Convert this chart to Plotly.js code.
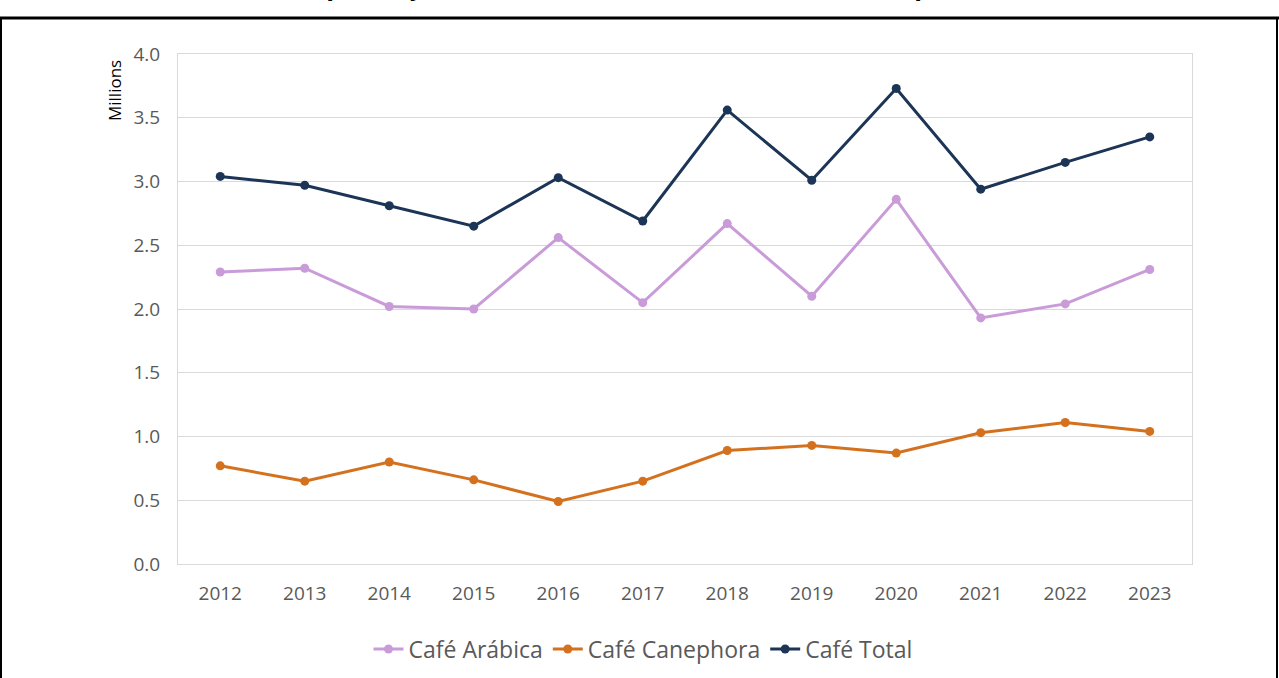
<!DOCTYPE html>
<html>
<head>
<meta charset="utf-8">
<script src="https://cdn.plot.ly/plotly-3.0.1.min.js"></script>
<style>
  html, body { margin: 0; padding: 0; background: #ffffff; }
  #chart { width: 1279px; height: 678px; }
</style>
</head>
<body>
<div id="chart"></div>
<script>
const years = ['2012','2013','2014','2015','2016','2017','2018','2019','2020','2021','2022','2023'];
const arabica   = [2.29, 2.32, 2.02, 2.00, 2.56, 2.05, 2.67, 2.10, 2.86, 1.93, 2.04, 2.31];
const canephora = [0.77, 0.65, 0.80, 0.66, 0.49, 0.65, 0.89, 0.93, 0.87, 1.03, 1.11, 1.04];
const total     = [3.04, 2.97, 2.81, 2.65, 3.03, 2.69, 3.56, 3.01, 3.73, 2.94, 3.15, 3.35];
const seriesNames = ['Café Arábica', 'Café Canephora', 'Café Total'];
const yTicks = [0, 0.5, 1.0, 1.5, 2.0, 2.5, 3.0, 3.5, 4.0];
const titleText = 'Série histórica da produção estimada de café no Estado do Espírito Santo';

const W = 1279, H = 678;
const L = 178, R = 1192, T = 54, B = 564;
const px = x => (x - L) / (R - L);
const py = y => (B - y) / (B - T);

function tr(y, name, color) {
  return {
    x: years, y: y, name: name, type: 'scatter', mode: 'lines+markers',
    line: {color: color, width: 3},
    marker: {color: color, size: 9},
    hoverinfo: 'x+y+name'
  };
}

const data = [
  tr(arabica, seriesNames[0], '#C99BD8'),
  tr(canephora, seriesNames[1], '#D4711E'),
  tr(total, seriesNames[2], '#1C3557')
];

const layout = {
  width: W, height: H,
  margin: {l: L, r: W - R, t: T, b: H - B, pad: 0, autoexpand: false},
  paper_bgcolor: '#ffffff', plot_bgcolor: '#ffffff',
  font: {family: 'Open Sans, sans-serif', size: 18, color: '#595959'},
  showlegend: true,
  legend: {
    orientation: 'h', x: px(643), xanchor: 'center', y: py(649), yanchor: 'middle',
    font: {size: 23, color: '#595959'}, traceorder: 'normal', itemwidth: 30
  },
  xaxis: {
    type: 'category', range: [-0.5, 11.5], showgrid: false,
    showline: true, linecolor: '#D9D9D9', linewidth: 1, mirror: true,
    ticks: '', ticklabelstandoff: 12, tickfont: {size: 19, color: '#595959'},
    zeroline: false
  },
  yaxis: {
    range: [0, 4], tickvals: yTicks, tickformat: '.1f',
    showgrid: true, gridcolor: '#D9D9D9', gridwidth: 1,
    showline: true, linecolor: '#D9D9D9', linewidth: 1, mirror: true,
    ticks: '', ticklabelstandoff: 13, tickfont: {size: 19, color: '#595959'},
    zeroline: false
  },
  annotations: [
    {text: 'Millions', xref: 'paper', yref: 'paper', x: px(115), y: py(91),
     xanchor: 'center', yanchor: 'middle', textangle: -90, showarrow: false,
     font: {size: 17, color: '#000000'}},
    {text: '<b>' + titleText + '</b>', xref: 'paper', yref: 'paper', x: px(84), y: py(2),
     xanchor: 'left', yanchor: 'bottom', showarrow: false, borderpad: 0,
     font: {family: 'Liberation Sans, Arial, sans-serif', size: 28, color: '#000000'}}
  ],
  shapes: [
    {type: 'line', xref: 'paper', yref: 'paper', x0: px(1), x1: px(1), y0: py(18), y1: py(700),
     line: {color: '#000000', width: 2}},
    {type: 'line', xref: 'paper', yref: 'paper', x0: px(0), x1: px(1279), y0: py(18), y1: py(18),
     line: {color: '#000000', width: 3}},
    {type: 'line', xref: 'paper', yref: 'paper', x0: px(1277), x1: px(1277), y0: py(18), y1: py(700),
     line: {color: '#000000', width: 2}}
  ]
};

Plotly.newPlot('chart', data, layout, {displayModeBar: false, staticPlot: true});
</script>
</body>
</html>
